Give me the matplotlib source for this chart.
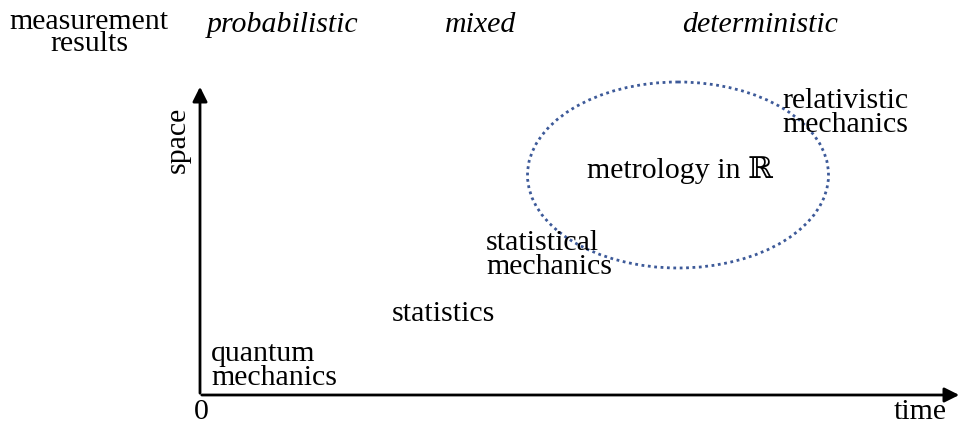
import matplotlib.pyplot as plt
from matplotlib.patches import Ellipse

W, H = 963, 425

# header row: category labels and their x centres
header_labels = ['probabilistic', 'mixed', 'deterministic']
header_x = [283, 481, 760]

# field labels placed on the time/space plane (left x, centre y of block)
fields = ['quantum\nmechanics', 'statistics', 'statistical\nmechanics',
          'relativistic\nmechanics']
field_x = [211, 392, 486, 782]
field_y = [366, 314, 255, 113]

plt.rcParams['font.family'] = ['Liberation Serif', 'DejaVu Serif']

fig = plt.figure(figsize=(W / 100, H / 100), dpi=100)
ax = fig.add_axes([0, 0, 1, 1])
ax.set_xlim(0, W)
ax.set_ylim(H, 0)
ax.axis('off')

fs = 21.5

# axes arrows
ax.annotate('', xy=(200, 84), xytext=(200, 396),
            arrowprops=dict(arrowstyle='-|>', lw=2, color='black', mutation_scale=22))
ax.annotate('', xy=(962, 395), xytext=(199, 395),
            arrowprops=dict(arrowstyle='-|>', lw=2, color='black', mutation_scale=22))

ax.text(178, 140, 'space', rotation=90, ha='center', va='center', fontsize=fs)
ax.text(201, 412, '0', ha='center', va='center', fontsize=fs)
ax.text(920, 412, 'time', ha='center', va='center', fontsize=fs)

ax.text(89, 33, 'measurement\nresults', ha='center', va='center', fontsize=fs,
        linespacing=0.82, multialignment='center')
for lab, x in zip(header_labels, header_x):
    ax.text(x, 25, lab, ha='center', va='center', fontsize=fs, style='italic')

for lab, x, y in zip(fields, field_x, field_y):
    ax.text(x, y, lab, ha='left', va='center', fontsize=fs, linespacing=0.88)

# metrology ellipse
ell = Ellipse((678, 175), 301, 186, fill=False, edgecolor='#3D5A99',
              lw=2, linestyle=(0, (1, 1.3)))
ax.add_patch(ell)
ax.text(680, 170, 'metrology in ℝ', ha='center', va='center', fontsize=fs)

fig.savefig('out.png', dpi=100)
